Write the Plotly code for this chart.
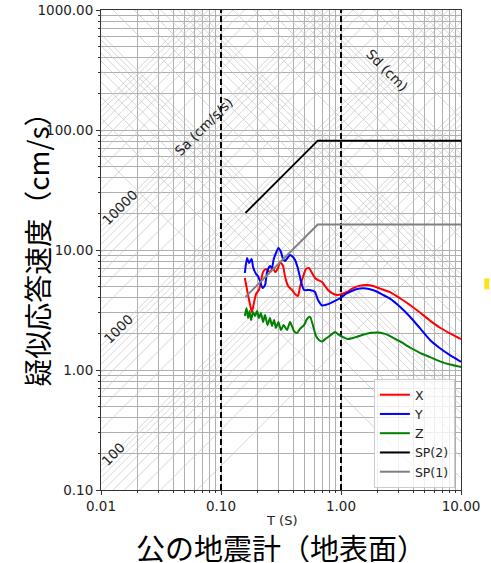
import math
import plotly.graph_objects as go

# ---------------- data ----------------
x_T = [0.158, 0.165, 0.175, 0.181, 0.188, 0.196, 0.207, 0.215, 0.224, 0.237, 0.256, 0.271, 0.282, 0.299,
       0.310, 0.329, 0.341, 0.362, 0.391, 0.414, 0.438, 0.455, 0.482, 0.511, 0.541, 0.573, 0.607, 0.643,
       0.695, 0.736, 0.779, 0.841, 0.926, 1.02, 1.12, 1.26, 1.44, 1.65, 1.85, 2.11, 2.56, 3.10, 3.76,
       4.55, 5.52, 6.68, 8.10, 10.0]
x_Sv = [5.84, 4.64, 3.48, 3.04, 3.61, 4.30, 4.64, 5.41, 6.56, 6.95, 6.56, 7.08, 6.56, 7.08, 7.94, 7.36,
        6.07, 5.01, 4.64, 4.30, 4.14, 4.92, 5.96, 6.95, 7.08, 6.43, 5.84, 5.62, 5.41, 5.01, 4.64, 4.38,
        4.22, 4.30, 4.47, 4.82, 5.05, 5.11, 5.01, 4.77, 4.45, 3.96, 3.48, 3.01, 2.58, 2.25, 2.02, 1.81]

y_T = [0.158, 0.165, 0.171, 0.180, 0.185, 0.196, 0.203, 0.211, 0.222, 0.233, 0.242, 0.256, 0.266, 0.274,
       0.287, 0.301, 0.316, 0.329, 0.341, 0.358, 0.376, 0.398, 0.414, 0.434, 0.451, 0.473, 0.492, 0.552,
       0.607, 0.643, 0.695, 0.736, 0.810, 0.891, 0.981, 1.08, 1.19, 1.36, 1.52, 1.74, 2.00, 2.24, 2.56,
       3.10, 3.76, 4.55, 5.52, 6.68, 8.10, 10.0]
y_Sv = [6.43, 8.58, 7.79, 8.41, 7.22, 6.31, 6.07, 5.52, 4.82, 5.11, 6.56, 7.36, 7.08, 8.25, 9.44, 10.4,
        9.62, 8.41, 8.10, 8.58, 9.09, 8.74, 8.25, 7.22, 6.19, 5.11, 4.64, 4.64, 4.47, 3.83, 3.45, 3.48,
        3.59, 3.76, 3.96, 4.27, 4.49, 4.73, 4.80, 4.71, 4.49, 4.22, 3.94, 3.37, 2.78, 2.23, 1.78, 1.52,
        1.33, 1.17]

z_T = [0.158, 0.163, 0.168, 0.173, 0.178, 0.185, 0.192, 0.200, 0.207, 0.215, 0.224, 0.233, 0.244, 0.256,
       0.266, 0.277, 0.287, 0.301, 0.316, 0.332, 0.355, 0.376, 0.406, 0.430, 0.455, 0.492, 0.521, 0.552,
       0.585, 0.619, 0.656, 0.695, 0.750, 0.825, 0.891, 0.962, 1.04, 1.14, 1.31, 1.50, 1.74, 2.03, 2.33,
       2.66, 3.10, 3.76, 4.55, 5.52, 6.68, 8.10, 10.0]
z_Sv = [2.82, 3.29, 2.71, 3.10, 2.61, 3.04, 2.82, 3.10, 2.71, 2.98, 2.51, 2.87, 2.37, 2.71, 2.33, 2.61,
        2.24, 2.51, 2.15, 2.37, 2.15, 2.51, 2.11, 2.03, 2.20, 2.37, 2.66, 2.77, 2.33, 1.92, 1.78, 1.73,
        1.83, 1.96, 2.07, 1.96, 1.88, 1.81, 1.87, 1.96, 2.03, 2.05, 2.00, 1.88, 1.73, 1.54, 1.39, 1.28,
        1.18, 1.11, 1.06]

sp2_T = [0.16, 0.64, 10.0]
sp2_Sv = [20.4, 81.5, 81.5]
sp1_T = [0.16, 0.64, 10.0]
sp1_Sv = [4.07, 16.3, 16.3]

ref_T = [0.1, 1.0]            # dashed reference periods

x_ticks = [0.01, 0.1, 1, 10]
x_ticktext = ["0.01", "0.10", "1.00", "10.00"]
y_ticks = [0.1, 1, 10, 100, 1000]
y_ticktext = ["0.10", "1.00", "10.00", "100.00", "1000.00"]

sa_levels = [m * 10 ** k for k in range(1, 5) for m in range(1, 10)] + [100000]
sd_levels = [m * 10.0 ** k for k in range(-1, 3) for m in range(1, 10)] + [1000.0]

sa_labels = ["10000", "1000", "100"]
sa_label_T = [0.01439, 0.01386, 0.01259]
sd_labels = ["100", "10", "1"]
sd_label_pos = [(13.1, 50.1), (12.6, 5.52), (11.7, 0.573)]

T_RANGE = (0.01, 10.0)
SV_RANGE = (0.1, 1000.0)

FONT = "DejaVu Sans"
CJK = "Noto Sans CJK JP"
TWO_PI = 2 * math.pi
GRID = "#b0b0b0"

fig = go.Figure()

# ---------------- tripartite diagonal grid ----------------
dx, dy = [], []
for sa in sa_levels:
    for T in T_RANGE:
        dx.append(T)
        dy.append(sa * T / TWO_PI)
    dx.append(None)
    dy.append(None)
for sd in sd_levels:
    for T in T_RANGE:
        dx.append(T)
        dy.append(TWO_PI * sd / T)
    dx.append(None)
    dy.append(None)
fig.add_trace(go.Scatter(x=dx, y=dy, mode="lines", line=dict(color="#c4c4c4", width=0.7),
                         hoverinfo="skip", showlegend=False))

# dashed reference lines
for t in ref_T:
    fig.add_trace(go.Scatter(x=[t, t], y=list(SV_RANGE), mode="lines",
                             line=dict(color="black", width=2, dash="6px,3px"),
                             hoverinfo="skip", showlegend=False))

# ---------------- spectra ----------------
curve = dict(width=2, shape="spline", smoothing=0.6)
fig.add_trace(go.Scatter(x=x_T, y=x_Sv, mode="lines", name="X", line=dict(color="#ff0000", **curve)))
fig.add_trace(go.Scatter(x=y_T, y=y_Sv, mode="lines", name="Y", line=dict(color="#0000ff", **curve)))
fig.add_trace(go.Scatter(x=z_T, y=z_Sv, mode="lines", name="Z", line=dict(color="#008000", **curve)))
fig.add_trace(go.Scatter(x=sp2_T, y=sp2_Sv, mode="lines", name="SP(2)", line=dict(color="#000000", width=2)))
fig.add_trace(go.Scatter(x=sp1_T, y=sp1_Sv, mode="lines", name="SP(1)", line=dict(color="#808080", width=2)))

# ---------------- annotations ----------------
ann = []
small = dict(family=FONT, size=13.5, color="#222")
for lab, t, sa in zip(sa_labels, sa_label_T, [10000, 1000, 100]):
    ann.append(dict(x=math.log10(t), y=math.log10(sa * t / TWO_PI), xref="x", yref="y", text=lab,
                    showarrow=False, textangle=-45, xanchor="center", yanchor="middle", font=small))
for lab, (t, sv) in zip(sd_labels, sd_label_pos):
    ann.append(dict(x=math.log10(t), y=math.log10(sv), xref="x", yref="y", text=lab,
                    showarrow=False, textangle=45, xanchor="center", yanchor="middle", font=small))
ann.append(dict(x=math.log10(0.0708), y=math.log10(106), xref="x", yref="y", text="Sa (cm/s/s)",
                showarrow=False, textangle=-45, xanchor="center", yanchor="middle", font=small))
ann.append(dict(x=math.log10(2.42), y=math.log10(316), xref="x", yref="y", text="Sd (cm)",
                showarrow=False, textangle=45, xanchor="center", yanchor="middle", font=small))
# axis titles
ann.append(dict(x=0.5, y=-0.0625, xref="paper", yref="paper", text="T (S)", showarrow=False,
                xanchor="center", yanchor="middle", height=16,
                font=dict(family=FONT, size=13, color="#222")))
ann.append(dict(x=0.5, y=-0.118, xref="paper", yref="paper", text="公の地震計（地表面）", showarrow=False,
                xanchor="center", yanchor="middle", height=30,
                font=dict(family=CJK, size=29, color="black")))
ann.append(dict(x=-0.178, y=0.515, xref="paper", yref="paper", text="疑似応答速度（cm/s）", showarrow=False,
                xanchor="center", yanchor="middle", textangle=-90,
                font=dict(family=CJK, size=28, color="black")))

minor_x = [m * 10.0 ** k for k in range(-2, 1) for m in range(2, 10)]
minor_y = [m * 10.0 ** k for k in range(-1, 3) for m in range(2, 10)]

axis_common = dict(type="log", showline=True, linecolor="#333", linewidth=1, mirror=True,
                   automargin=False,
                   ticks="outside", ticklen=4, tickcolor="#333", showgrid=True, gridcolor=GRID,
                   gridwidth=1, zeroline=False, tickfont=dict(family=FONT, size=13.5, color="#222"))

fig.update_layout(
    width=491, height=563,
    margin=dict(l=101, r=30, t=10, b=73),
    paper_bgcolor="white", plot_bgcolor="white",
    xaxis=dict(range=[math.log10(T_RANGE[0]), math.log10(T_RANGE[1])], tickvals=x_ticks,
               ticktext=x_ticktext,
               minor=dict(tickvals=minor_x, showgrid=True, gridcolor=GRID, gridwidth=1,
                          ticks="outside", ticklen=2, tickcolor="#333"),
               **axis_common),
    yaxis=dict(range=[math.log10(SV_RANGE[0]), math.log10(SV_RANGE[1])], tickvals=y_ticks,
               ticktext=y_ticktext,
               minor=dict(tickvals=minor_y, showgrid=True, gridcolor=GRID, gridwidth=1,
                          ticks="outside", ticklen=2, tickcolor="#333"),
               **axis_common),
    legend=dict(x=0.983, y=0.004, xanchor="right", yanchor="bottom", itemwidth=30,
                entrywidth=44, entrywidthmode="pixels",
                bgcolor="rgba(255,255,255,0.8)", bordercolor="#cccccc", borderwidth=1,
                font=dict(family=FONT, size=12.5, color="#222")),
    annotations=ann,
    shapes=[dict(type="rect", xref="paper", yref="paper", x0=1.0647, x1=1.0786, y0=0.418, y1=0.441,
                 fillcolor="#ffe01a", line=dict(width=0))],
    showlegend=True,
)

fig.write_html("out.html", config={"displayModeBar": False},
               post_script="document.body.style.margin='0px';document.body.style.padding='0px';")
